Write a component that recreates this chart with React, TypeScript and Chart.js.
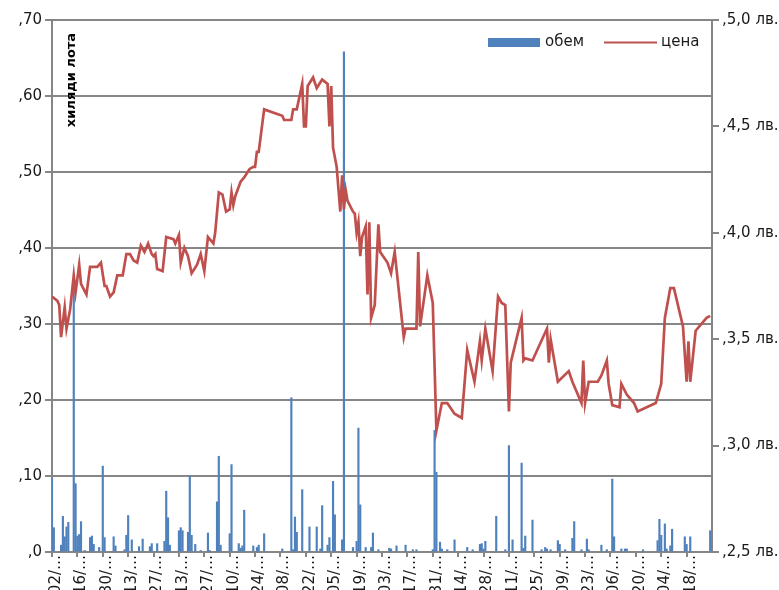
import React, { useEffect, useRef } from "react";
import { Chart, registerables } from "chart.js";

Chart.register(...registerables);

// Days are counted from the first trading day on the axis (02/01).
const xTickStep = 14;
const xTickLabels = [
  "02/…", "16/…", "30/…", "13/…", "27/…", "13/…", "27/…", "10/…", "24/…",
  "08/…", "22/…", "05/…", "19/…", "03/…", "17/…", "31/…", "14/…", "28/…",
  "11/…", "25/…", "09/…", "23/…", "06/…", "20/…", "04/…", "18/…",
];
const yLeftTickLabels = [",0", ",10", ",20", ",30", ",40", ",50", ",60", ",70"];
const yRightTickLabels = [",2,5 лв.", ",3,0 лв.", ",3,5 лв.", ",4,0 лв.", ",4,5 лв.", ",5,0 лв."];

const volumeLabel = "обем";
const priceLabel = "цена";
const leftAxisTitle = "хиляди лота";

const priceDays = [
  0, 3, 4, 5, 7, 8, 10, 12, 13, 15,
  16, 19, 21, 25, 27, 29, 30, 32, 34, 36,
  39, 41, 43, 45, 47, 49, 51, 53, 55, 56,
  57, 58, 61, 63, 67, 68, 70, 71, 73, 75,
  77, 80, 82, 84, 86, 87, 89, 90, 92, 94,
  96, 98, 99, 100, 101, 104, 106, 109, 111, 112,
  113, 114, 117, 127, 128, 132, 133, 135, 138, 139,
  140, 141, 144, 146, 149, 152, 153, 154, 155, 157,
  159, 160, 161, 162, 163, 166, 167, 168, 169, 170,
  171, 173, 174, 175, 176, 178, 180, 181, 185, 187,
  189, 194, 195, 201, 202, 203, 207, 210, 212, 215,
  218, 222, 226, 229, 233, 236, 237, 239, 243, 246,
  248, 250, 252, 253, 259, 260, 261, 265, 273, 274,
  275, 279, 285, 287, 292, 293, 294, 296, 301, 303,
  306, 307, 309, 313, 314, 317, 321, 323, 333, 336,
  338, 341, 343, 348, 350, 351, 352, 355, 361, 363,
];
const priceValues = [
  3.70, 3.68, 3.66, 3.51, 3.65, 3.55, 3.64, 3.80, 3.72, 3.85,
  3.76, 3.71, 3.84, 3.84, 3.86, 3.75, 3.75, 3.70, 3.72, 3.80,
  3.80, 3.90, 3.90, 3.87, 3.86, 3.94, 3.91, 3.95, 3.90, 3.89,
  3.90, 3.83, 3.82, 3.98, 3.97, 3.95, 3.99, 3.86, 3.93, 3.89,
  3.81, 3.85, 3.90, 3.82, 3.98, 3.97, 3.95, 4.00, 4.19, 4.18,
  4.10, 4.11, 4.19, 4.13, 4.17, 4.24, 4.26, 4.30, 4.31, 4.31,
  4.38, 4.38, 4.58, 4.55, 4.53, 4.53, 4.58, 4.58, 4.70, 4.50,
  4.50, 4.69, 4.73, 4.68, 4.72, 4.70, 4.50, 4.69, 4.40, 4.31,
  4.10, 4.27, 4.11, 4.20, 4.15, 4.10, 4.09, 4.00, 4.05, 3.89,
  3.98, 4.03, 3.71, 4.05, 3.60, 3.66, 4.04, 3.91, 3.86, 3.81,
  3.91, 3.51, 3.55, 3.55, 3.91, 3.56, 3.80, 3.67, 3.07, 3.20,
  3.20, 3.15, 3.13, 3.45, 3.30, 3.49, 3.40, 3.55, 3.35, 3.70,
  3.67, 3.66, 3.16, 3.39, 3.60, 3.40, 3.41, 3.40, 3.55, 3.39,
  3.50, 3.30, 3.35, 3.30, 3.20, 3.40, 3.20, 3.30, 3.30, 3.33,
  3.40, 3.29, 3.19, 3.18, 3.29, 3.24, 3.20, 3.16, 3.20, 3.29,
  3.60, 3.74, 3.74, 3.56, 3.30, 3.49, 3.30, 3.54, 3.60, 3.61,
];

const volumeDays = [
  0, 1, 5, 6, 7, 8, 9, 12, 13, 14,
  15, 16, 18, 21, 22, 23, 26, 28, 29, 34,
  35, 40, 41, 42, 44, 48, 50, 54, 55, 58,
  62, 63, 64, 65, 70, 71, 72, 75, 76, 77,
  79, 82, 86, 87, 91, 92, 93, 98, 99, 103,
  104, 105, 106, 111, 113, 114, 117, 127, 132, 133,
  134, 135, 138, 142, 146, 148, 149, 152, 153, 155,
  156, 160, 161, 166, 168, 169, 170, 173, 176, 177,
  180, 186, 187, 190, 195, 199, 201, 210, 211, 212,
  214, 215, 218, 222, 229, 232, 236, 237, 238, 239,
  245, 250, 252, 254, 259, 260, 261, 265, 270, 272,
  273, 275, 279, 280, 283, 287, 288, 292, 295, 296,
  303, 306, 309, 310, 314, 316, 317, 326, 334, 335,
  336, 338, 339, 341, 342, 349, 350, 352, 363,
];
const volumeValues = [
  0.097, 0.032, 0.009, 0.047, 0.020, 0.033, 0.039, 0.355, 0.090, 0.021,
  0.023, 0.040, 0.002, 0.019, 0.021, 0.010, 0.006, 0.113, 0.019, 0.020,
  0.008, 0.003, 0.022, 0.048, 0.016, 0.007, 0.017, 0.007, 0.011, 0.011,
  0.014, 0.080, 0.045, 0.009, 0.028, 0.032, 0.028, 0.026, 0.100, 0.022,
  0.010, 0.002, 0.025, 0.002, 0.066, 0.126, 0.009, 0.024, 0.115, 0.011,
  0.005, 0.008, 0.055, 0.008, 0.006, 0.009, 0.024, 0.004, 0.203, 0.003,
  0.046, 0.026, 0.082, 0.033, 0.033, 0.004, 0.061, 0.009, 0.019, 0.093,
  0.049, 0.016, 0.658, 0.006, 0.014, 0.163, 0.062, 0.006, 0.006, 0.025,
  0.003, 0.005, 0.004, 0.008, 0.009, 0.003, 0.003, 0.003, 0.160, 0.105,
  0.013, 0.004, 0.003, 0.016, 0.006, 0.003, 0.010, 0.011, 0.004, 0.014,
  0.047, 0.003, 0.140, 0.016, 0.117, 0.005, 0.021, 0.042, 0.003, 0.006,
  0.004, 0.003, 0.015, 0.010, 0.003, 0.018, 0.040, 0.003, 0.017, 0.003,
  0.009, 0.003, 0.096, 0.020, 0.004, 0.004, 0.004, 0.003, 0.015, 0.043,
  0.022, 0.037, 0.004, 0.008, 0.030, 0.020, 0.010, 0.020, 0.028,
];

const BLUE = "#4F81BD";
const RED = "#C0504D";
const GRID = "#868686";
const TEXT = "#1a1a1a";
const FONT = "'DejaVu Sans', Verdana, sans-serif";

const overlayPlugin = {
  id: "overlay",
  afterDraw(chart: any) {
    const ctx = chart.ctx;
    const area = chart.chartArea;
    // rotated axis title inside the plot
    ctx.save();
    ctx.translate(area.left + 20, area.top + 60);
    ctx.rotate(-Math.PI / 2);
    ctx.font = `bold 13px ${FONT}`;
    ctx.fillStyle = "#000";
    ctx.textAlign = "center";
    ctx.textBaseline = "middle";
    ctx.fillText(leftAxisTitle, 0, 0);
    ctx.restore();

    // legend in the upper right of the plot
    ctx.save();
    const ly = area.top + 22.5;
    ctx.fillStyle = BLUE;
    ctx.fillRect(488, ly - 4.5, 52, 9);
    ctx.font = `15px ${FONT}`;
    ctx.fillStyle = TEXT;
    ctx.textAlign = "left";
    ctx.textBaseline = "middle";
    ctx.fillText(volumeLabel, 545, ly);
    ctx.strokeStyle = RED;
    ctx.lineWidth = 2.2;
    ctx.beginPath();
    ctx.moveTo(604, ly);
    ctx.lineTo(657, ly);
    ctx.stroke();
    ctx.fillText(priceLabel, 661, ly);
    ctx.restore();
  },
};

export default function App() {
  const canvasRef = useRef<HTMLCanvasElement | null>(null);

  useEffect(() => {
    if (!canvasRef.current) return;
    const tickFont = { family: FONT, size: 15 };
    const chart = new Chart(canvasRef.current, {
      type: "line",
      data: {
        datasets: [
          {
            type: "line",
            label: priceLabel,
            data: priceDays.map((d, i) => ({ x: d, y: priceValues[i] })),
            borderColor: RED,
            borderWidth: 2.7,
            pointRadius: 0,
            tension: 0,
            fill: false,
            yAxisID: "y1",
            order: 0,
          } as any,
          {
            type: "bar",
            label: volumeLabel,
            data: volumeDays.map((d, i) => ({ x: d, y: volumeValues[i] })),
            backgroundColor: BLUE,
            borderWidth: 0,
            barThickness: 1.5,
            yAxisID: "y",
            order: 1,
          } as any,
        ],
      },
      options: {
        responsive: false,
        devicePixelRatio: 1,
        animation: false,
        layout: { padding: { top: 20, left: 0, right: 0, bottom: 0 } },
        plugins: {
          legend: { display: false },
          tooltip: { enabled: false },
        },
        scales: {
          x: {
            type: "linear",
            position: "bottom",
            min: 0,
            max: 364,
            offset: false,
            afterBuildTicks: (scale: any) => {
              scale.ticks = xTickLabels.map((_, i) => ({ value: i * xTickStep }));
            },
            afterFit: (scale: any) => {
              scale.height = 38;
            },
            ticks: {
              autoSkip: false,
              minRotation: 90,
              maxRotation: 90,
              padding: -2,
              labelOffset: 4,
              color: TEXT,
              font: tickFont,
              callback: (_v: any, i: number) => xTickLabels[i],
            },
            grid: {
              display: true,
              drawOnChartArea: false,
              drawTicks: true,
              tickLength: 5,
              color: GRID,
              lineWidth: 2,
              offset: false,
            },
            border: { display: true, color: GRID, width: 2 },
          },
          y: {
            type: "linear",
            position: "left",
            min: 0,
            max: 0.7,
            afterBuildTicks: (scale: any) => {
              scale.ticks = yLeftTickLabels.map((_, i) => ({ value: i * 0.1 }));
            },
            afterFit: (scale: any) => {
              scale.width = 52;
            },
            ticks: {
              padding: 3,
              color: TEXT,
              font: tickFont,
              callback: (_v: any, i: number) => yLeftTickLabels[i],
            },
            grid: {
              color: GRID,
              lineWidth: 2,
              tickLength: 7,
              drawTicks: true,
            },
            border: { display: true, color: GRID, width: 2 },
          },
          y1: {
            type: "linear",
            position: "right",
            min: 2.5,
            max: 5.0,
            afterBuildTicks: (scale: any) => {
              scale.ticks = yRightTickLabels.map((_, i) => ({ value: 2.5 + i * 0.5 }));
            },
            afterFit: (scale: any) => {
              scale.width = 67;
            },
            ticks: {
              padding: 3,
              color: TEXT,
              font: tickFont,
              callback: (_v: any, i: number) => yRightTickLabels[i],
            },
            grid: {
              drawOnChartArea: false,
              drawTicks: true,
              tickLength: 7,
              color: GRID,
              lineWidth: 2,
            },
            border: { display: true, color: GRID, width: 2 },
          },
        },
      } as any,
      plugins: [overlayPlugin],
    });
    return () => chart.destroy();
  }, []);

  return (
    <div style={{ position: "fixed", left: 0, top: 0, width: 779, height: 590, background: "#fff" }}>
      <canvas ref={canvasRef} width={779} height={590} style={{ display: "block" }} />
    </div>
  );
}
